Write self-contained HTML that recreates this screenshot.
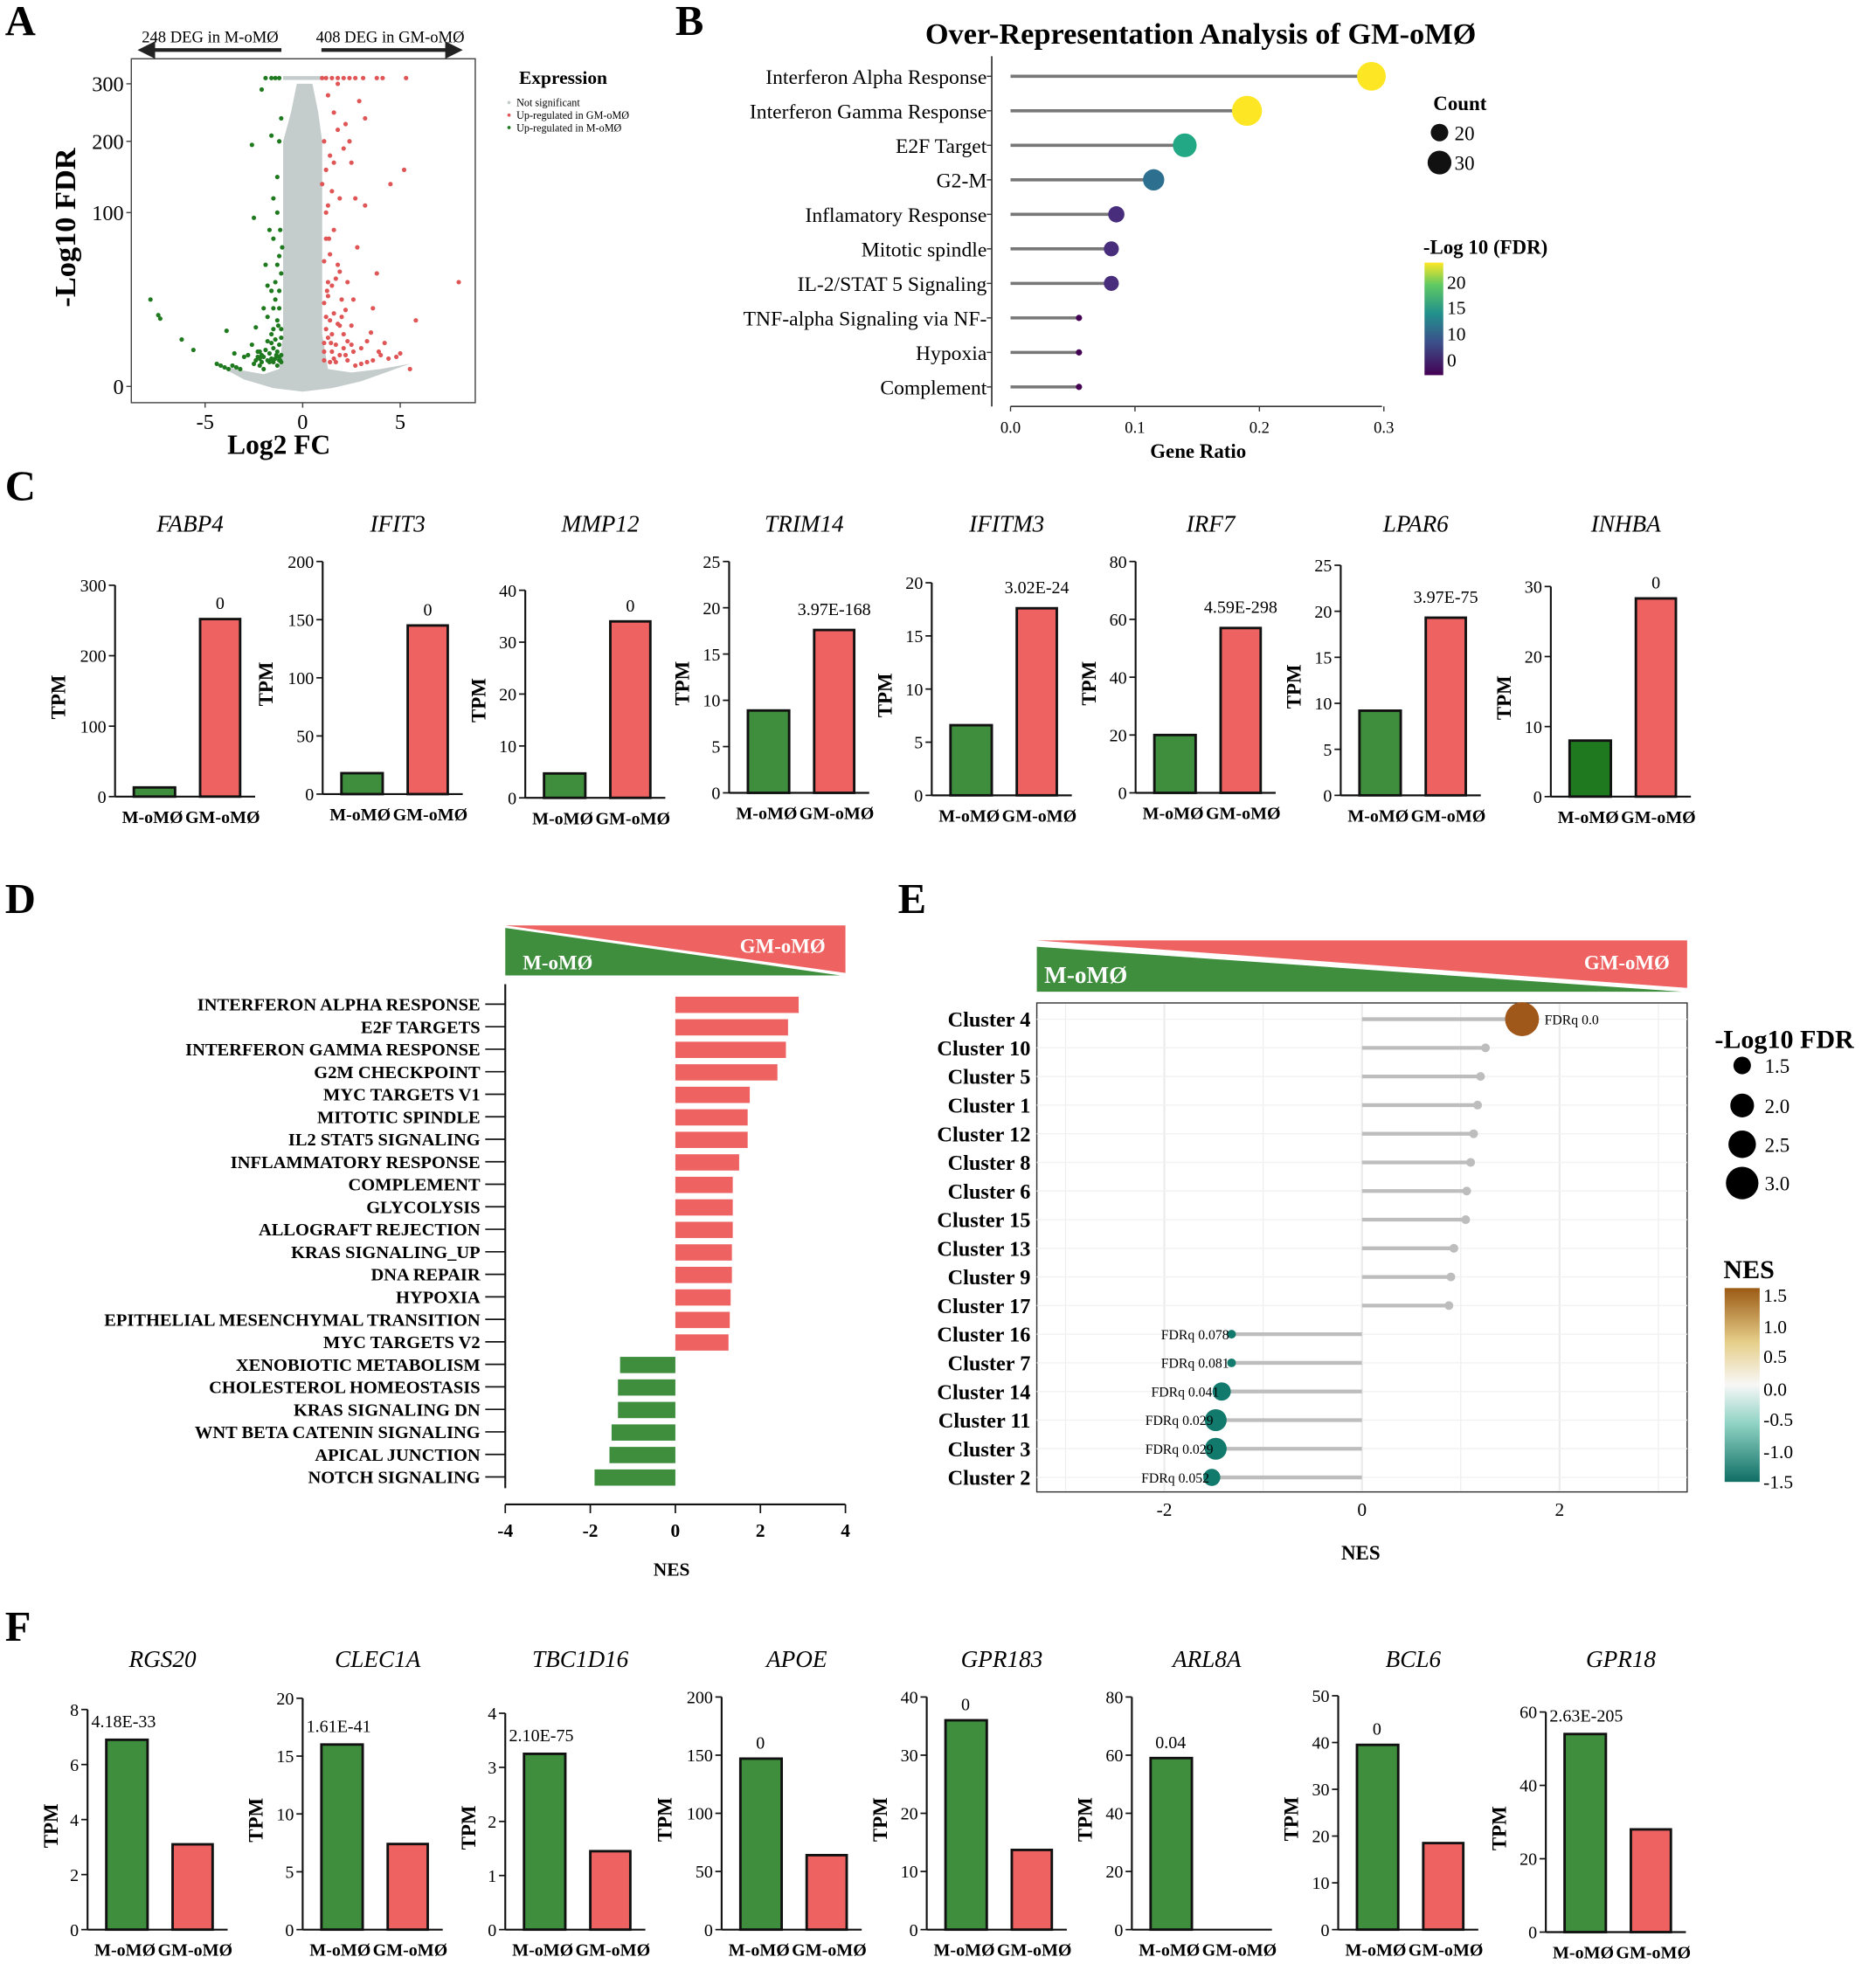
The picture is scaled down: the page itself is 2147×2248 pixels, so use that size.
<!DOCTYPE html>
<html><head><meta charset="utf-8">
<style>
html,body{margin:0;padding:0;background:#fff;}
svg{display:block;font-family:"Liberation Serif",serif;}
</style></head>
<body>
<svg id="fig" width="2147" height="2248" viewBox="0 0 1500 1570.5" preserveAspectRatio="none" xmlns="http://www.w3.org/2000/svg"></svg>
<script>
// ===== Panel A data =====
const aGreen=[[-7.8,50],[-7.4,41],[-7.3,39],[-6.2,27],[-5.6,21],[-4.4,13],[-4.2,12],[-4.0,11],[-3.8,10],[-3.6,12],[-3.4,11],[-3.2,10],[-3.9,32],[-3.5,19],[-3.0,17],[-2.8,18],[-2.6,24],[-2.4,34],[-2.2,20],[-2.0,45],[-1.9,70],[-1.8,26],[-1.7,90],[-1.6,25],[-1.5,120],[-1.4,60],[-1.3,150],[-1.25,35],[-1.2,200],[-1.15,15],[-1.1,240],[-1.05,80],[-2.1,14],[-2.5,13],[-2.3,20],[-1.8,40],[-1.3,100],[-2.1,290],[-2.6,195],[-1.6,210],[-2.5,97],[-1.2,55],[-1.1,28],[-1.3,12],[-1.7,14],[-2.0,10],[-2.2,12],[-1.2,15],[-1.5,14],[-1.1,18],[-1.35,18],[-1.5,45],[-1.2,75],[-1.9,310],[-1.6,310],[-1.4,310],[-1.2,310],
[-2.4,15],[-2.2,16],[-2.0,17],[-1.8,15],[-1.6,16],[-1.4,16],[-1.2,17],[-1.1,14],[-1.3,20],[-1.5,22],[-1.7,19],[-1.9,21],[-2.1,18],[-2.3,17],[-1.2,24],[-1.4,27],[-1.6,30],[-1.1,33],[-1.3,38],[-1.5,33],[-1.2,45],[-1.4,50],[-1.1,65],[-1.6,55],[-1.8,58],[-1.3,70],[-1.15,90],[-1.5,85]];
const aRed=[[8,60],[5.2,160],[5.8,38],[4.5,140],[3.8,65],[3.5,31],[3.2,110],[3,22],[2.8,80],[2.6,50],[2.5,170],[2.3,15],[2.2,230],[2.0,40],[1.9,120],[1.8,70],[1.7,14],[1.6,250],[1.5,30],[1.4,180],[1.3,60],[1.2,100],[1.1,20],[1.0,140],[4,18],[5,19],[4.8,17],[4.4,16],[3.6,15],[3.3,14],[3.0,13],[2.7,12],[5.5,10],[4.2,25],[3.6,45],[2.7,120],[2.1,190],[1.3,280],[2.9,270],[3.2,240],[1.8,300],[2.4,200],[1.2,40],[1.4,14],[1.6,16],[2.2,18],[2.6,20],[1.1,15],[1.25,55],[1.35,85],[1.45,25],[1.9,35],[2.1,22],[3.3,26],[3.9,20],[1,310],[1.2,310],[1.5,310],[1.8,310],[2.1,310],[2.4,310],[2.7,310],[3.1,310],[3.8,310],[4.1,310],[5.3,310],
[1.1,25],[1.3,28],[1.5,20],[1.7,24],[1.9,18],[2.1,30],[2.3,26],[2.5,24],[1.2,33],[1.4,38],[1.6,42],[1.8,36],[2.0,50],[2.2,44],[1.1,48],[1.3,52],[1.5,58],[1.7,62],[1.9,66],[1.1,72],[1.4,76],[1.6,90],[1.2,85],[2.3,60],[2.5,35],[1.3,110],[1.5,130],[1.2,160],[1.6,170],[1.1,200],[1.8,220]];
const aGreyOutline=[[-4.5,13],[-3,9],[-2,7],[-1.2,10],[-1.0,30],[-1.0,200],[-0.6,250],[-0.3,300],[0.5,300],[0.8,250],[1.0,200],[1.0,30],[1.3,10],[2.5,8],[4,10],[5.5,13],[3,3],[1.5,-1],[0,-3],[-1.5,-1],[-3,4]];
const aXTicks=[-5,0,5];
const aYTicks=[0,100,200,300];
// ===== Panel B data =====
const bTerms=["Interferon Alpha Response","Interferon Gamma Response","E2F Target","G2-M","Inflamatory Response","Mitotic spindle","IL-2/STAT 5 Signaling","TNF-alpha Signaling via NF-","Hypoxia","Complement"];
const bRatio=[0.29,0.19,0.14,0.115,0.085,0.081,0.081,0.055,0.055,0.055];
const bCount=[32,33,28,26,22,21,21,14,14,14];
const bFdr=[22,23,15,11,4,4,4,0,0,0];
const bXTicks=[0,0.1,0.2,0.3];
// ===== Panel C data =====
const cGenes=["FABP4","IFIT3","MMP12","TRIM14","IFITM3","IRF7","LPAR6","INHBA"];
const cM=[13,18,4.7,8.9,6.6,20,9.2,8];
const cGM=[252,145,34,17.6,17.6,57,19.3,28.3];
const cMax=[300,200,40,25,20,80,25,30];
const cStep=[100,50,10,5,5,20,5,10];
const cP=["0","0","0","3.97E-168","3.02E-24","4.59E-298","3.97E-75","0"];
// ===== Panel D data =====
const dTerms=["INTERFERON ALPHA RESPONSE","E2F TARGETS","INTERFERON GAMMA RESPONSE","G2M CHECKPOINT","MYC TARGETS V1","MITOTIC SPINDLE","IL2 STAT5 SIGNALING","INFLAMMATORY RESPONSE","COMPLEMENT","GLYCOLYSIS","ALLOGRAFT REJECTION","KRAS SIGNALING_UP","DNA REPAIR","HYPOXIA","EPITHELIAL MESENCHYMAL TRANSITION","MYC TARGETS V2","XENOBIOTIC METABOLISM","CHOLESTEROL HOMEOSTASIS","KRAS SIGNALING DN","WNT BETA CATENIN SIGNALING","APICAL JUNCTION","NOTCH SIGNALING"];
const dNES=[2.9,2.65,2.6,2.4,1.75,1.7,1.7,1.5,1.35,1.35,1.35,1.33,1.33,1.3,1.28,1.25,-1.3,-1.35,-1.35,-1.5,-1.55,-1.9];
const dXTicks=[-4,-2,0,2,4];
// ===== Panel E data =====
const eClusters=["Cluster 4","Cluster 10","Cluster 5","Cluster 1","Cluster 12","Cluster 8","Cluster 6","Cluster 15","Cluster 13","Cluster 9","Cluster 17","Cluster 16","Cluster 7","Cluster 14","Cluster 11","Cluster 3","Cluster 2"];
const eNES=[1.62,1.25,1.2,1.17,1.13,1.1,1.06,1.05,0.93,0.9,0.88,-1.32,-1.32,-1.42,-1.48,-1.48,-1.52];
const eLogFdr=[3.2,0,0,0,0,0,0,0,0,0,0,1.1,1.1,1.9,2.2,2.2,1.8];
const eLabels=["FDRq 0.0","","","","","","","","","","","FDRq 0.078","FDRq 0.081","FDRq 0.041","FDRq 0.029","FDRq 0.029","FDRq 0.052"];
const eXTicks=[-2,0,2];
// ===== Panel F data =====
const fGenes=["RGS20","CLEC1A","TBC1D16","APOE","GPR183","ARL8A","BCL6","GPR18"];
const fM=[6.9,16,3.25,147,36,59,39.5,54];
const fGM=[3.1,7.4,1.45,64,13.7,0,18.5,28];
const fMax=[8,20,4,200,40,80,50,60];
const fStep=[2,5,1,50,10,20,10,20];
const fP=["4.18E-33","1.61E-41","2.10E-75","0","0","0.04","0","2.63E-205"];

const NS="http://www.w3.org/2000/svg";
const svg=document.getElementById('fig');
function mk(tag,attrs,parent,txt){const e=document.createElementNS(NS,tag);for(const k in attrs)e.setAttribute(k,attrs[k]);if(txt!==undefined)e.textContent=txt;(parent||svg).appendChild(e);return e;}
const GREEN="#3e8e3e",RED="#ee6262";

[["A",4,28],["B",540,28],["C",4,400],["D",4,730],["E",718,730],["F",4,1312]].forEach(p=>{
 const t=mk('text',{x:p[1],y:p[2],'font-size':34,'font-weight':'bold'},svg,p[0]);
 
 
});

// ===== Panel A =====
(function(){
 const g=mk('g',{});
 
 
 const X=v=>242+v*15.6;
 const ty=[309,170,113,67];
 const Y=v=>{if(v<0)return 309-v*1.39; if(v>=300)return 67-(v-300)*0.46; for(let i=0;i<3;i++){if(v<=aYTicks[i+1]){const f=(v-aYTicks[i])/(aYTicks[i+1]-aYTicks[i]);return ty[i]+f*(ty[i+1]-ty[i]);}} return 67;};
 const box=mk('rect',{x:105,y:47,width:275,height:275,fill:'none',stroke:'#444','stroke-width':1},g);
 
 const pts=aGreyOutline.map(p=>X(p[0])+','+Y(p[1])).join(' ');
 const cloud=mk('polygon',{points:pts,fill:'#c4cccc'},g);
 
 mk('line',{x1:X(-1),x2:X(1),y1:Y(310),y2:Y(310),stroke:'#c4cccc','stroke-width':3},g);
 aGreen.forEach(p=>{const c=mk('circle',{cx:X(p[0]),cy:Y(p[1]),r:1.8,fill:'#1f7a1f'},g);
  });
 aRed.forEach(p=>{const c=mk('circle',{cx:X(p[0]),cy:Y(p[1]),r:1.8,fill:'#e05555'},g);
  });
 aXTicks.forEach(v=>{mk('line',{x1:X(v),x2:X(v),y1:322,y2:326,stroke:'#444'},g);
  const t=mk('text',{x:X(v),y:343,'font-size':17,'text-anchor':'middle'},g,v);
  });
 aYTicks.forEach(v=>{mk('line',{x1:101,x2:105,y1:Y(v),y2:Y(v),stroke:'#444'},g);
  const t=mk('text',{x:99,y:Y(v)+6,'font-size':17,'text-anchor':'end'},g,v);
  });
 const xt=mk('text',{x:223,y:363,'font-size':22,'font-weight':'bold','text-anchor':'middle'},g,'Log2 FC');
 
 const yt=mk('text',{x:0,y:0,'font-size':24,'font-weight':'bold','text-anchor':'middle',transform:'translate(60,182) rotate(-90)'},g,'-Log10 FDR');
 
 mk('line',{x1:122,x2:225,y1:40,y2:40,stroke:'#222','stroke-width':3},g);
 mk('polygon',{points:'110,40 124,33 124,47',fill:'#222'},g);
 mk('line',{x1:257,x2:358,y1:40,y2:40,stroke:'#222','stroke-width':3},g);
 mk('polygon',{points:'370,40 356,33 356,47',fill:'#222'},g);
 const l1=mk('text',{x:168,y:34,'font-size':13,'text-anchor':'middle'},g,'248 DEG in M-oMØ');
 
 const l2=mk('text',{x:312,y:34,'font-size':13,'text-anchor':'middle'},g,'408 DEG in GM-oMØ');
 
 const lt=mk('text',{x:415,y:67,'font-size':15,'font-weight':'bold'},g,'Expression');
 
 [["Not significant","#c4cccc"],["Up-regulated in GM-oMØ","#e05555"],["Up-regulated in M-oMØ","#1f7a1f"]].forEach((e,i)=>{
  mk('circle',{cx:407,cy:82+i*10,r:1.3,fill:e[1]},g);
  const t=mk('text',{x:413,y:85+i*10,'font-size':8.5},g,e[0]);
  });
})();

// ===== Panel B =====
(function(){
 const g=mk('g',{});
 
 
 const X=v=>808+v*995;
 const Y=i=>61+i*27.6;
 const col=v=>{const s=[[0,'#440154'],[4,'#472d7b'],[10,'#2c6f8e'],[15,'#22a884'],[20,'#bddf26'],[23,'#fde725']];for(let i=0;i<s.length-1;i++){if(v<=s[i+1][0])return v-s[i][0]<(s[i+1][0]-v)?s[i][1]:s[i+1][1];}return '#fde725';};
 const tt=mk('text',{x:960,y:35,'font-size':24,'font-weight':'bold','text-anchor':'middle'},g,'Over-Representation Analysis of GM-oMØ');
 
 mk('line',{x1:793,x2:793,y1:45,y2:325,stroke:'#333','stroke-width':1.2},g);
 mk('line',{x1:808,x2:1105,y1:325,y2:325,stroke:'#333','stroke-width':1.2},g);
 bTerms.forEach((t,i)=>{
  mk('line',{x1:789,x2:793,y1:Y(i),y2:Y(i),stroke:'#333'},g);
  const l=mk('text',{x:789,y:Y(i)+6,'font-size':16.5,'text-anchor':'end'},g,t);
  
  const s=mk('line',{x1:808,x2:X(bRatio[i]),y1:Y(i),y2:Y(i),stroke:'#777','stroke-width':2.5},g);
  
  const r=2+Math.max(0,bCount[i]-13)*0.5;
  const c=mk('circle',{cx:X(bRatio[i]),cy:Y(i),r:r,fill:col(bFdr[i])},g);
  
 });
 bXTicks.forEach(v=>{mk('line',{x1:X(v),x2:X(v),y1:325,y2:329,stroke:'#333'},g);
  const t=mk('text',{x:X(v),y:346,'font-size':13,'text-anchor':'middle'},g,v.toFixed(1));
  });
 const xt=mk('text',{x:958,y:366,'font-size':16,'font-weight':'bold','text-anchor':'middle'},g,'Gene Ratio');
 
 const ct=mk('text',{x:1146,y:88,'font-size':16,'font-weight':'bold'},g,'Count');
 
 [[20,106,7],[30,130,9.5]].forEach(e=>{mk('circle',{cx:1151,cy:e[1],r:e[2],fill:'#111'},g);
  const t=mk('text',{x:1163,y:e[1]+6,'font-size':16},g,e[0]);});
 const ft=mk('text',{x:1138,y:203,'font-size':16,'font-weight':'bold'},g,'-Log 10 (FDR)');
 
 const d=mk('defs',{},g);const lg=mk('linearGradient',{id:'vir',x1:0,y1:1,x2:0,y2:0},d);
 [['0','#440154'],['0.3','#3b528b'],['0.55','#21918c'],['0.8','#5ec962'],['1','#fde725']].forEach(s=>mk('stop',{offset:s[0],'stop-color':s[1]},lg));
 const cb=mk('rect',{x:1139,y:210,width:15,height:90,fill:'url(#vir)'},g);
 
 [[20,226],[15,246],[10,267],[0,288]].forEach(e=>{const t=mk('text',{x:1157,y:e[1]+5,'font-size':15},g,e[0]);});
})();

// ===== bar chart helper for C and F =====
function barChart(ax,top,bot,gene,mv,gv,max,step,p,mColor,prefix,titleY){
 const g=mk('g',{});
 
 
 const Y=v=>bot-(v/max)*(bot-top);
 const t=mk('text',{x:ax+60,y:titleY,'font-size':19,'font-style':'italic','text-anchor':'middle'},g,gene);
 
 mk('line',{x1:ax,x2:ax,y1:top,y2:bot,stroke:'#111','stroke-width':1.5},g);
 mk('line',{x1:ax,x2:ax+112,y1:bot,y2:bot,stroke:'#111','stroke-width':1.5},g);
 for(let v=0;v<=max+1e-9;v+=step){mk('line',{x1:ax-5,x2:ax,y1:Y(v),y2:Y(v),stroke:'#111','stroke-width':1.2},g);
  const tl=mk('text',{x:ax-7,y:Y(v)+5,'font-size':14,'text-anchor':'end'},g,v);
  }
 const digits=String(max).length;
 const yl=mk('text',{x:0,y:0,'font-size':16,'font-weight':'bold','text-anchor':'middle',transform:`translate(${ax-16-8*digits},${(top+bot)/2+5}) rotate(-90)`},g,'TPM');
 
 const b1=mk('rect',{x:ax+15,y:Y(mv),width:33,height:bot-Y(mv),fill:mColor,stroke:'#111','stroke-width':2},g);
 
 const b2=mk('rect',{x:ax+68,y:Y(gv),width:32,height:bot-Y(gv),fill:RED,stroke:'#111','stroke-width':2},g);
 
 let pl;
 if(mv>gv&&p.length>4){pl=mk('text',{x:ax+3,y:Y(mv)-10,'font-size':14,'text-anchor':'start'},g,p);}
 else{const hi=mv>gv?ax+31:ax+84;pl=mk('text',{x:hi,y:Y(Math.max(mv,gv))-(p.length>4?12:8),'font-size':14,'text-anchor':'middle'},g,p);}
 
 const x1=mk('text',{x:ax+30,y:bot+21,'font-size':14,'font-weight':'bold','text-anchor':'middle'},g,'M-oMØ');
 
 const x2=mk('text',{x:ax+86,y:bot+21,'font-size':14,'font-weight':'bold','text-anchor':'middle'},g,'GM-oMØ');
 
}
const cAx=[92,258,420,583,745,908,1072,1240],cTop=[468,449,472,449,466,449,452,469],cBot=[637,635,638,634,636,634,636,637];
cGenes.forEach((gname,i)=>barChart(cAx[i],cTop[i],cBot[i],gname,cM[i],cGM[i],cMax[i],cStep[i],cP[i],i===7?'#1f7a1f':GREEN,'c',425));
const fAx=[70,242,404,577,741,905,1070,1236],fTop=[1367,1358,1370,1357,1357,1357,1356,1369],fBot=[1543,1543,1543,1543,1543,1543,1543,1545];
fGenes.forEach((gname,i)=>barChart(fAx[i],fTop[i],fBot[i],gname,fM[i],fGM[i],fMax[i],fStep[i],fP[i],GREEN,'f',1333));

// ===== Panel D =====
(function(){
 const g=mk('g',{});
 
 
 const X=v=>540+v*34;
 const Y=i=>803+i*18;
 const tri1=mk('polygon',{points:'404,740 676,740 676,778',fill:RED},g);
 
 const tri2=mk('polygon',{points:'404,742 404,780 672,780',fill:GREEN},g);
 
 const a=mk('text',{x:418,y:775,'font-size':16,'font-weight':'bold',fill:'#fff'},g,'M-oMØ');
 const b=mk('text',{x:660,y:762,'font-size':16,'font-weight':'bold',fill:'#fff','text-anchor':'end'},g,'GM-oMØ');
 mk('line',{x1:404,x2:404,y1:787,y2:1190,stroke:'#111','stroke-width':1.5},g);
 mk('line',{x1:404,x2:676,y1:1203,y2:1203,stroke:'#111','stroke-width':1.5},g);
 dTerms.forEach((t,i)=>{
  mk('line',{x1:388,x2:404,y1:Y(i),y2:Y(i),stroke:'#111','stroke-width':1.2},g);
  const l=mk('text',{x:384,y:Y(i)+5,'font-size':14.3,'font-weight':'bold','text-anchor':'end'},g,t);
  
  const v=dNES[i];
  const r=mk('rect',{x:Math.min(X(0),X(v)),y:Y(i)-6,width:Math.abs(X(v)-X(0)),height:13,fill:v>0?RED:GREEN},g);
  
 });
 dXTicks.forEach(v=>{mk('line',{x1:X(v),x2:X(v),y1:1203,y2:1210,stroke:'#111','stroke-width':1.2},g);
  const t=mk('text',{x:X(v),y:1229,'font-size':15,'font-weight':'bold','text-anchor':'middle'},g,v);
  });
 const xt=mk('text',{x:537,y:1260,'font-size':15,'font-weight':'bold','text-anchor':'middle'},g,'NES');
 
})();

// ===== Panel E =====
(function(){
 const g=mk('g',{});
 
 
 const X=v=>1089+v*79;
 const Y=i=>815+i*22.9;
 const tri1=mk('polygon',{points:'829,752 1349,752 1349,790',fill:RED},g);
 
 const tri2=mk('polygon',{points:'829,757 829,793 1345,793',fill:GREEN},g);
 
 const a=mk('text',{x:835,y:786,'font-size':19,'font-weight':'bold',fill:'#fff'},g,'M-oMØ');
 const b=mk('text',{x:1335,y:775,'font-size':16,'font-weight':'bold',fill:'#fff','text-anchor':'end'},g,'GM-oMØ');
 const box=mk('rect',{x:829,y:802,width:520,height:391,fill:'#fff',stroke:'#333','stroke-width':1},g);
 
 [-3,-2,-1,0,1,2,3].forEach(v=>mk('line',{x1:X(v),x2:X(v),y1:803,y2:1192,stroke:'#ececec','stroke-width':v%2===0?1.6:0.8},g));
 eClusters.forEach((c,i)=>{
  mk('line',{x1:829,x2:1349,y1:Y(i),y2:Y(i),stroke:'#f2f2f2','stroke-width':1},g);
  const l=mk('text',{x:824,y:Y(i)+6,'font-size':17,'font-weight':'bold','text-anchor':'end'},g,c);
  
  const v=eNES[i];
  const s=mk('line',{x1:X(0),x2:X(v),y1:Y(i),y2:Y(i),stroke:'#bdbdbd','stroke-width':3},g);
  
  const lf=eLogFdr[i];
  const r=lf>0?Math.max(3,(lf-1)*4.8+3):3.5;
  const fill=lf===0?'#bdbdbd':(v>0?'#a0581a':'#12796d');
  const d=mk('circle',{cx:X(v),cy:Y(i),r:r,fill:fill},g);
  
  if(eLabels[i]){const t=mk('text',{x:v>0?X(v)+18:X(v)-2,y:Y(i)+4,'font-size':11,'text-anchor':v>0?'start':'end'},g,eLabels[i]);
   }
 });
 eXTicks.forEach(v=>{const t=mk('text',{x:X(v),y:1212,'font-size':15,'text-anchor':'middle'},g,v);
  });
 const xt=mk('text',{x:1088,y:1247,'font-size':16,'font-weight':'bold','text-anchor':'middle'},g,'NES');
 
 const lt=mk('text',{x:1371,y:838,'font-size':21,'font-weight':'bold'},g,'-Log10 FDR');
 
 [['1.5',852,7],['2.0',884,9.5],['2.5',915,11],['3.0',946,13]].forEach(e=>{mk('circle',{cx:1393,cy:e[1],r:e[2],fill:'#000'},g);
  const t=mk('text',{x:1411,y:e[1]+6,'font-size':16},g,e[0]);});
 const nt=mk('text',{x:1378,y:1022,'font-size':21,'font-weight':'bold'},g,'NES');
 
 const defs=mk('defs',{},g);const lg=mk('linearGradient',{id:'nesg',x1:0,y1:1,x2:0,y2:0},defs);
 [['0','#0f6e64'],['0.3','#8fd3c4'],['0.5','#f7f7f7'],['0.72','#e6cf8a'],['1','#9b5a14']].forEach(s=>mk('stop',{offset:s[0],'stop-color':s[1]},lg));
 const cb=mk('rect',{x:1379,y:1030,width:28,height:155,fill:'url(#nesg)'},g);
 
 [['1.5',1036],['1.0',1061],['0.5',1085],['0.0',1111],['-0.5',1135],['-1.0',1161],['-1.5',1185]].forEach(e=>{
  const t=mk('text',{x:1410,y:e[1]+5,'font-size':15},g,e[0]);});
})();
</script>
</body></html>
